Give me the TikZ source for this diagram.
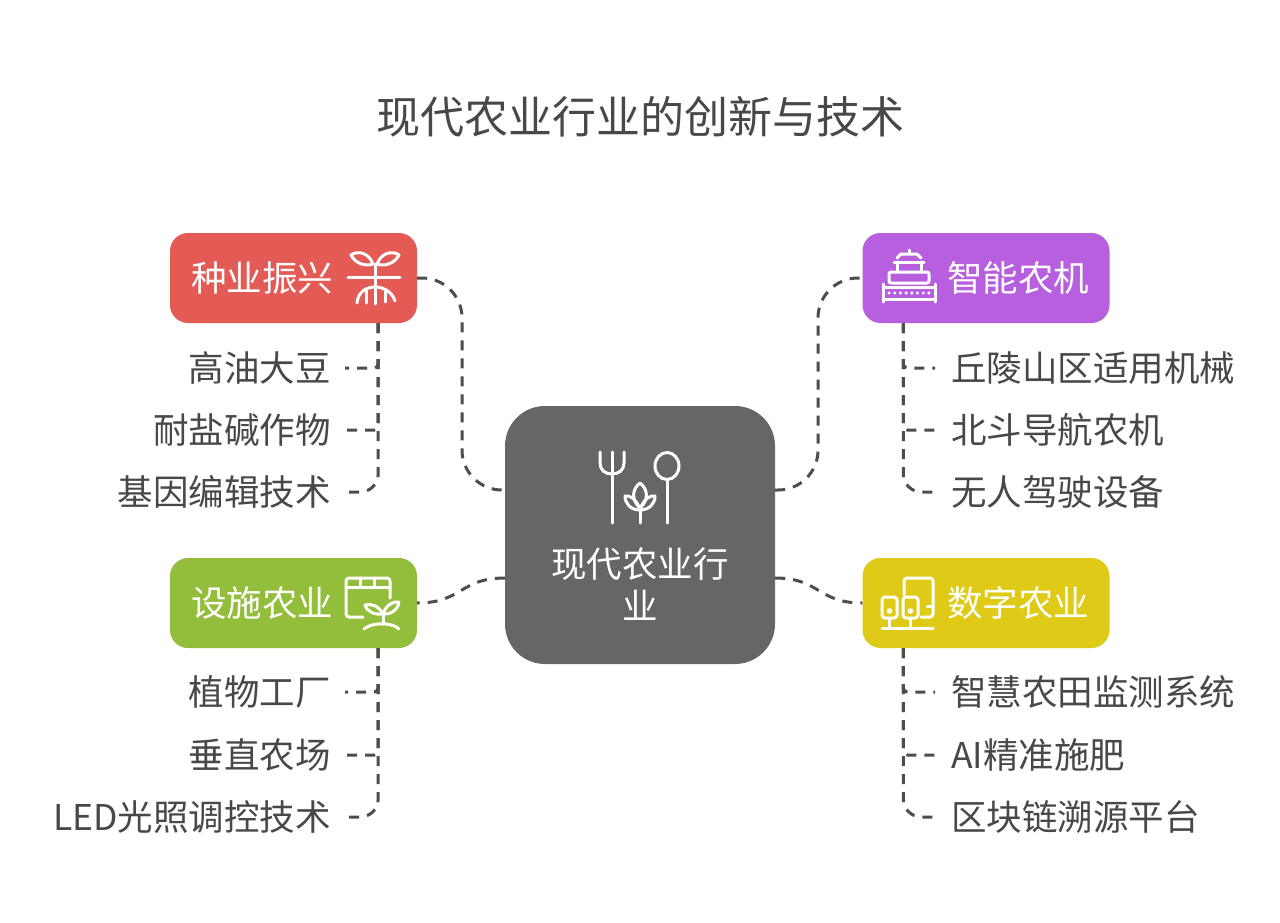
\documentclass[tikz,border=0pt]{standalone}
\usepackage{fontspec}
\setmainfont{Noto Sans CJK SC}
\usetikzlibrary{calc}
\definecolor{redc}{HTML}{E45B56}
\definecolor{purc}{HTML}{B85FE0}
\definecolor{grnc}{HTML}{93BE3B}
\definecolor{yelc}{HTML}{DFCB17}
\definecolor{ctrc}{HTML}{666666}
\definecolor{textc}{HTML}{484848}
\definecolor{linec}{HTML}{4D4D4D}
\begin{document}
\begin{tikzpicture}[x=1pt,y=-1pt,
  conn/.style={draw=linec, line width=3pt, dash pattern=on 10pt off 8pt},
  catbox/.style={rounded corners=18pt, minimum width=247pt, minimum height=90pt, inner sep=0pt},
  cattext/.style={text=white, font=\fontsize{35.5}{40}\selectfont, inner sep=0pt},
  itemL/.style={anchor=east, text=textc, font=\fontsize{35.5}{40}\selectfont, inner xsep=14pt, inner ysep=0pt},
  itemR/.style={anchor=west, text=textc, font=\fontsize{35.5}{40}\selectfont, inner xsep=16pt, inner ysep=0pt},
  icon/.style={draw=white, line width=3pt, line cap=round, line join=round}]
\useasboundingbox (0,0) rectangle (1280,923);
\fill[white] (0,0) rectangle (1280,923);

% title
\node[text=textc, font=\fontsize{44}{50}\selectfont, inner sep=0pt] (title) at (640,117) {现代农业行业的创新与技术};

% central node
\node[fill=ctrc, rounded corners=40pt, minimum width=270pt, minimum height=258pt, inner sep=0pt] (ctr) at (640,535) {};
\node[text=white, font=\fontsize{35.5}{42}\selectfont, align=center, inner sep=0pt] (ctrt) at (640,584) {现代农业行\\业};

% category boxes
\node[catbox, fill=redc] (zy) at (293.5,278) {};
\node[catbox, fill=purc] (zn) at (986,278) {};
\node[catbox, fill=grnc] (ss) at (293.5,603) {};
\node[catbox, fill=yelc] (sz) at (986,603) {};
\node[cattext] (zyt) at (262,278) {种业振兴};
\node[cattext] (znt) at (1018,278) {智能农机};
\node[cattext] (sst) at (262,603) {设施农业};
\node[cattext] (szt) at (1018,603) {数字农业};

% main connectors
\draw[conn, rounded corners=40pt] (zy.east) -| (462,490) -- ($(ctr.west)+(0,-45)$);
\draw[conn, rounded corners=40pt] ($(ctr.east)+(0,-45)$) -| (818,278) -- (zn.west);
\draw[conn] ($(ctr.west)+(0,43)$) .. controls +(-45,0) and +(45,0) .. (ss.east);
\draw[conn] ($(ctr.east)+(0,43)$) .. controls +(45,0) and +(-45,0) .. (sz.west);

% sub items
\coordinate (zyb) at ($(zy.south east)+(-39,0)$);
\coordinate (znb) at ($(zn.south west)+(41,0)$);
\coordinate (ssb) at ($(ss.south east)+(-39,0)$);
\coordinate (szb) at ($(sz.south west)+(41,0)$);

\node[itemL] (a1) at (345,368) {高油大豆};
\node[itemL] (a2) at (345,430) {耐盐碱作物};
\node[itemL] (a3) at (345,492) {基因编辑技术};
\node[itemR] (b1) at (935,368) {丘陵山区适用机械};
\node[itemR] (b2) at (935,430) {北斗导航农机};
\node[itemR] (b3) at (935,492) {无人驾驶设备};
\node[itemL] (c1) at (345,692) {植物工厂};
\node[itemL] (c2) at (345,755) {垂直农场};
\node[itemL] (c3) at (345,817) {LED光照调控技术};
\node[itemR] (d1) at (935,692) {智慧农田监测系统};
\node[itemR] (d2) at (935,755) {AI精准施肥};
\node[itemR] (d3) at (935,817) {区块链溯源平台};

\draw[conn, rounded corners=4pt] (zyb) |- (a1.east);
\draw[conn, rounded corners=4pt] (zyb) |- (a2.east);
\draw[conn, rounded corners=18pt] (zyb) |- (a3.east);
\draw[conn, rounded corners=4pt] (znb) |- (b1.west);
\draw[conn, rounded corners=4pt] (znb) |- (b2.west);
\draw[conn, rounded corners=18pt] (znb) |- (b3.west);
\draw[conn, rounded corners=4pt] (ssb) |- (c1.east);
\draw[conn, rounded corners=4pt] (ssb) |- (c2.east);
\draw[conn, rounded corners=18pt] (ssb) |- (c3.east);
\draw[conn, rounded corners=4pt] (szb) |- (d1.west);
\draw[conn, rounded corners=4pt] (szb) |- (d2.west);
\draw[conn, rounded corners=18pt] (szb) |- (d3.west);

% icon: sprout (种业振兴)
\draw[icon] (348,277) -- (400,277);
\draw[icon] (375,264) -- (375,292);
\draw[icon] (373,264) .. controls (369,253) and (358,250) .. (351,255) .. controls (355,263) and (365,267) .. (373,264);
\draw[icon] (377,264) .. controls (381,253) and (392,250) .. (399,255) .. controls (395,263) and (385,267) .. (377,264);
\draw[icon] (357,303) .. controls (358,292) and (366,287) .. (375,287) .. controls (384,287) and (392,292) .. (395,301);
\draw[icon] (366,291) -- (366,303);
\draw[icon] (375,287) -- (375,304);
\draw[icon] (385,291) -- (385,302);

% icon: fork, spoon, plant (center)
\draw[icon] (600,452) -- (600,463) .. controls (600,470) and (605,474) .. (612,474) .. controls (619,474) and (624,470) .. (624,463) -- (624,452);
\draw[icon] (612,452) -- (612,523);
\draw[icon] (667,466) ellipse [x radius=12pt, y radius=13.5pt];
\draw[icon] (667,479.5) -- (667,523);
\draw[icon] (640,483) .. controls (648,489) and (649,500) .. (640,508) .. controls (631,500) and (632,489) .. (640,483);
\draw[icon] (640,509) .. controls (636,499) and (630,495) .. (625,496) .. controls (625,504) and (631,510) .. (640,510);
\draw[icon] (640,509) .. controls (644,499) and (650,495) .. (655,496) .. controls (655,504) and (649,510) .. (640,510);
\draw[icon] (640,509) -- (640,523);

% icon: harvester (智能农机)
\draw[icon] (909,250) -- (909,254);
\draw[icon] (894,262) -- (924,262);
\draw[icon] (897,258) -- (901,254) -- (917,254) -- (921,258);
\draw[icon] (897,262) -- (897,272);
\draw[icon] (921,262) -- (921,272);
\draw[icon, rounded corners=2pt] (889,272) rectangle (929,283);
\draw[icon] (883,284) -- (883,302);
\draw[icon] (935,284) -- (935,302);
\draw[icon] (883,287) -- (935,287);
\draw[icon] (883,299) -- (935,299);
\foreach \i in {0,...,7} \fill[white] (889+\i*5.7,293) circle (1.7pt);

% icon: greenhouse with plant (设施农业)
\draw[icon, rounded corners=3pt] (363,617) -- (346,617) -- (346,578) -- (390,578) -- (390,598);
\draw[icon] (346,587) -- (390,587);
\draw[icon] (360,578) -- (360,587);
\draw[icon] (374,578) -- (374,587);
\draw[icon] (383,614) .. controls (379,606) and (371,603) .. (365,605) .. controls (367,612) and (375,615) .. (383,614);
\draw[icon] (383,614) .. controls (386,605) and (393,601) .. (399,602) .. controls (398,610) and (390,615) .. (383,614);
\draw[icon] (383,614) -- (383,624);
\draw[icon] (364,629) .. controls (372,622) and (392,622) .. (399,629);

% icon: tablet with robots (数字农业)
\draw[icon, rounded corners=3pt] (904,595) -- (904,578) -- (933,578) -- (933,617) -- (921,617);
\draw[icon] (927,606) -- (933,606);
\draw[icon, rounded corners=3pt] (882,597) rectangle (897,618);
\draw[icon, rounded corners=3pt] (903,597) rectangle (918,618);
\fill[white] (889.5,611) circle (2.8pt);
\fill[white] (910.5,611) circle (2.8pt);
\draw[icon] (889.5,618) -- (889.5,628);
\draw[icon] (910.5,618) -- (910.5,628);
\draw[icon] (882,628) -- (933,628);
\end{tikzpicture}
\end{document}
